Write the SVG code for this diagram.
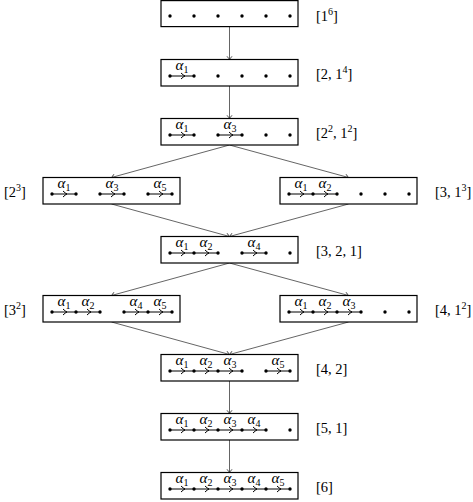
<svg xmlns="http://www.w3.org/2000/svg" width="473" height="502" viewBox="0 0 473 502">
<style>
.box{fill:#fff;stroke:#000;stroke-width:1.2}
.dot{fill:#000}
.e{fill:none;stroke:#000;stroke-width:1;marker-mid:url(#mid)}
.c{fill:none;stroke:#222;stroke-width:0.7;marker-end:url(#tip)}
.a{font-family:'Liberation Serif','DejaVu Serif',serif;font-style:italic;font-size:15px;text-anchor:middle;fill:#000}
.lb{font-family:'Liberation Serif','DejaVu Serif',serif;font-size:14.5px;fill:#000}
.s{font-size:10px;font-style:normal}
</style>
<defs>
<marker id="mid" markerUnits="userSpaceOnUse" viewBox="-5 -5 10 10" markerWidth="10" markerHeight="10" refX="0" refY="0" orient="auto" overflow="visible">
<path d="M-1,-3 Q1.5,-0.6 3,0 Q1.5,0.6 -1,3" fill="none" stroke="#000" stroke-width="1"/>
</marker>
<marker id="tip" markerUnits="userSpaceOnUse" viewBox="-5 -5 10 10" markerWidth="10" markerHeight="10" refX="0" refY="0" orient="auto" overflow="visible">
<path d="M-3.2,-2.5 Q-0.8,-0.5 0,0 Q-0.8,0.5 -3.2,2.5" fill="none" stroke="#222" stroke-width="0.8"/>
</marker>
</defs>

<g id="connectors">
<path class="c" d="M229.5 27 L229.5 59.5"/>
<path class="c" d="M229.5 86 L229.5 118.5"/>
<path class="c" d="M229.5 145 L111.5 177.5"/>
<path class="c" d="M229.5 145 L348.5 177.5"/>
<path class="c" d="M111.5 204 L229.5 236.5"/>
<path class="c" d="M348.5 204 L229.5 236.5"/>
<path class="c" d="M229.5 263 L111.5 295.5"/>
<path class="c" d="M229.5 263 L348.5 295.5"/>
<path class="c" d="M111.5 322 L229.5 354.5"/>
<path class="c" d="M348.5 322 L229.5 354.5"/>
<path class="c" d="M229.5 381 L229.5 413.5"/>
<path class="c" d="M229.5 440 L229.5 472.5"/>
</g>

<g id="n1">
<rect class="box" x="161" y="0.6" width="137" height="26"/>
<circle class="dot" cx="170" cy="16" r="1.7"/><circle class="dot" cx="194" cy="16" r="1.7"/><circle class="dot" cx="218" cy="16" r="1.7"/><circle class="dot" cx="242" cy="16" r="1.7"/><circle class="dot" cx="266" cy="16" r="1.7"/><circle class="dot" cx="290" cy="16" r="1.7"/>
<text class="lb" x="316" y="21">[1<tspan class="s" dy="-6">6</tspan><tspan dy="6">]</tspan></text>
</g>

<g id="n2">
<rect class="box" x="161" y="59.5" width="137" height="26.5"/>
<path class="e" d="M170 76 L182 76 L194 76"/>
<circle class="dot" cx="170" cy="76" r="1.7"/><circle class="dot" cx="194" cy="76" r="1.7"/><circle class="dot" cx="218" cy="76" r="1.7"/><circle class="dot" cx="242" cy="76" r="1.7"/><circle class="dot" cx="266" cy="76" r="1.7"/><circle class="dot" cx="290" cy="76" r="1.7"/>
<text class="a" x="182" y="69.5">α<tspan class="s" dy="3">1</tspan></text>
<text class="lb" x="316" y="79">[2, 1<tspan class="s" dy="-6">4</tspan><tspan dy="6">]</tspan></text>
</g>

<g id="n3">
<rect class="box" x="161" y="118.5" width="137" height="26.5"/>
<path class="e" d="M170 135 L182 135 L194 135"/>
<path class="e" d="M218 135 L230 135 L242 135"/>
<circle class="dot" cx="170" cy="135" r="1.7"/><circle class="dot" cx="194" cy="135" r="1.7"/><circle class="dot" cx="218" cy="135" r="1.7"/><circle class="dot" cx="242" cy="135" r="1.7"/><circle class="dot" cx="266" cy="135" r="1.7"/><circle class="dot" cx="290" cy="135" r="1.7"/>
<text class="a" x="182" y="128.5">α<tspan class="s" dy="3">1</tspan></text>
<text class="a" x="230" y="128.5">α<tspan class="s" dy="3">3</tspan></text>
<text class="lb" x="316" y="138">[2<tspan class="s" dy="-6">2</tspan><tspan dy="6">, 1</tspan><tspan class="s" dy="-6">2</tspan><tspan dy="6">]</tspan></text>
</g>

<g id="n4">
<rect class="box" x="43" y="177.5" width="137" height="26.5"/>
<path class="e" d="M52 194 L64 194 L76 194"/>
<path class="e" d="M100 194 L112 194 L124 194"/>
<path class="e" d="M148 194 L160 194 L172 194"/>
<circle class="dot" cx="52" cy="194" r="1.7"/><circle class="dot" cx="76" cy="194" r="1.7"/><circle class="dot" cx="100" cy="194" r="1.7"/><circle class="dot" cx="124" cy="194" r="1.7"/><circle class="dot" cx="148" cy="194" r="1.7"/><circle class="dot" cx="172" cy="194" r="1.7"/>
<text class="a" x="64" y="187.5">α<tspan class="s" dy="3">1</tspan></text>
<text class="a" x="112" y="187.5">α<tspan class="s" dy="3">3</tspan></text>
<text class="a" x="160" y="187.5">α<tspan class="s" dy="3">5</tspan></text>
<text class="lb" x="4" y="197">[2<tspan class="s" dy="-6">3</tspan><tspan dy="6">]</tspan></text>
</g>

<g id="n5">
<rect class="box" x="280" y="177.5" width="137" height="26.5"/>
<path class="e" d="M289 194 L301 194 L313 194"/>
<path class="e" d="M313 194 L325 194 L337 194"/>
<circle class="dot" cx="289" cy="194" r="1.7"/><circle class="dot" cx="313" cy="194" r="1.7"/><circle class="dot" cx="337" cy="194" r="1.7"/><circle class="dot" cx="361" cy="194" r="1.7"/><circle class="dot" cx="385" cy="194" r="1.7"/><circle class="dot" cx="409" cy="194" r="1.7"/>
<text class="a" x="301" y="187.5">α<tspan class="s" dy="3">1</tspan></text>
<text class="a" x="325" y="187.5">α<tspan class="s" dy="3">2</tspan></text>
<text class="lb" x="435" y="197">[3, 1<tspan class="s" dy="-6">3</tspan><tspan dy="6">]</tspan></text>
</g>

<g id="n6">
<rect class="box" x="161" y="236.5" width="137" height="26.5"/>
<path class="e" d="M170 253 L182 253 L194 253"/>
<path class="e" d="M194 253 L206 253 L218 253"/>
<path class="e" d="M242 253 L254 253 L266 253"/>
<circle class="dot" cx="170" cy="253" r="1.7"/><circle class="dot" cx="194" cy="253" r="1.7"/><circle class="dot" cx="218" cy="253" r="1.7"/><circle class="dot" cx="242" cy="253" r="1.7"/><circle class="dot" cx="266" cy="253" r="1.7"/><circle class="dot" cx="290" cy="253" r="1.7"/>
<text class="a" x="182" y="246.5">α<tspan class="s" dy="3">1</tspan></text>
<text class="a" x="206" y="246.5">α<tspan class="s" dy="3">2</tspan></text>
<text class="a" x="254" y="246.5">α<tspan class="s" dy="3">4</tspan></text>
<text class="lb" x="316" y="256">[3, 2, 1]</text>
</g>

<g id="n7">
<rect class="box" x="43" y="295.5" width="137" height="26.5"/>
<path class="e" d="M52 312 L64 312 L76 312"/>
<path class="e" d="M76 312 L88 312 L100 312"/>
<path class="e" d="M124 312 L136 312 L148 312"/>
<path class="e" d="M148 312 L160 312 L172 312"/>
<circle class="dot" cx="52" cy="312" r="1.7"/><circle class="dot" cx="76" cy="312" r="1.7"/><circle class="dot" cx="100" cy="312" r="1.7"/><circle class="dot" cx="124" cy="312" r="1.7"/><circle class="dot" cx="148" cy="312" r="1.7"/><circle class="dot" cx="172" cy="312" r="1.7"/>
<text class="a" x="64" y="305.5">α<tspan class="s" dy="3">1</tspan></text>
<text class="a" x="88" y="305.5">α<tspan class="s" dy="3">2</tspan></text>
<text class="a" x="136" y="305.5">α<tspan class="s" dy="3">4</tspan></text>
<text class="a" x="160" y="305.5">α<tspan class="s" dy="3">5</tspan></text>
<text class="lb" x="4" y="315">[3<tspan class="s" dy="-6">2</tspan><tspan dy="6">]</tspan></text>
</g>

<g id="n8">
<rect class="box" x="280" y="295.5" width="137" height="26.5"/>
<path class="e" d="M289 312 L301 312 L313 312"/>
<path class="e" d="M313 312 L325 312 L337 312"/>
<path class="e" d="M337 312 L349 312 L361 312"/>
<circle class="dot" cx="289" cy="312" r="1.7"/><circle class="dot" cx="313" cy="312" r="1.7"/><circle class="dot" cx="337" cy="312" r="1.7"/><circle class="dot" cx="361" cy="312" r="1.7"/><circle class="dot" cx="385" cy="312" r="1.7"/><circle class="dot" cx="409" cy="312" r="1.7"/>
<text class="a" x="301" y="305.5">α<tspan class="s" dy="3">1</tspan></text>
<text class="a" x="325" y="305.5">α<tspan class="s" dy="3">2</tspan></text>
<text class="a" x="349" y="305.5">α<tspan class="s" dy="3">3</tspan></text>
<text class="lb" x="435" y="315">[4, 1<tspan class="s" dy="-6">2</tspan><tspan dy="6">]</tspan></text>
</g>

<g id="n9">
<rect class="box" x="161" y="354.5" width="137" height="26.5"/>
<path class="e" d="M170 371 L182 371 L194 371"/>
<path class="e" d="M194 371 L206 371 L218 371"/>
<path class="e" d="M218 371 L230 371 L242 371"/>
<path class="e" d="M266 371 L278 371 L290 371"/>
<circle class="dot" cx="170" cy="371" r="1.7"/><circle class="dot" cx="194" cy="371" r="1.7"/><circle class="dot" cx="218" cy="371" r="1.7"/><circle class="dot" cx="242" cy="371" r="1.7"/><circle class="dot" cx="266" cy="371" r="1.7"/><circle class="dot" cx="290" cy="371" r="1.7"/>
<text class="a" x="182" y="364.5">α<tspan class="s" dy="3">1</tspan></text>
<text class="a" x="206" y="364.5">α<tspan class="s" dy="3">2</tspan></text>
<text class="a" x="230" y="364.5">α<tspan class="s" dy="3">3</tspan></text>
<text class="a" x="278" y="364.5">α<tspan class="s" dy="3">5</tspan></text>
<text class="lb" x="316" y="374">[4, 2]</text>
</g>

<g id="n10">
<rect class="box" x="161" y="413.5" width="137" height="26.5"/>
<path class="e" d="M170 430 L182 430 L194 430"/>
<path class="e" d="M194 430 L206 430 L218 430"/>
<path class="e" d="M218 430 L230 430 L242 430"/>
<path class="e" d="M242 430 L254 430 L266 430"/>
<circle class="dot" cx="170" cy="430" r="1.7"/><circle class="dot" cx="194" cy="430" r="1.7"/><circle class="dot" cx="218" cy="430" r="1.7"/><circle class="dot" cx="242" cy="430" r="1.7"/><circle class="dot" cx="266" cy="430" r="1.7"/><circle class="dot" cx="290" cy="430" r="1.7"/>
<text class="a" x="182" y="423.5">α<tspan class="s" dy="3">1</tspan></text>
<text class="a" x="206" y="423.5">α<tspan class="s" dy="3">2</tspan></text>
<text class="a" x="230" y="423.5">α<tspan class="s" dy="3">3</tspan></text>
<text class="a" x="254" y="423.5">α<tspan class="s" dy="3">4</tspan></text>
<text class="lb" x="316" y="433">[5, 1]</text>
</g>

<g id="n11">
<rect class="box" x="161" y="472.5" width="137" height="26.5"/>
<path class="e" d="M170 489 L182 489 L194 489"/>
<path class="e" d="M194 489 L206 489 L218 489"/>
<path class="e" d="M218 489 L230 489 L242 489"/>
<path class="e" d="M242 489 L254 489 L266 489"/>
<path class="e" d="M266 489 L278 489 L290 489"/>
<circle class="dot" cx="170" cy="489" r="1.7"/><circle class="dot" cx="194" cy="489" r="1.7"/><circle class="dot" cx="218" cy="489" r="1.7"/><circle class="dot" cx="242" cy="489" r="1.7"/><circle class="dot" cx="266" cy="489" r="1.7"/><circle class="dot" cx="290" cy="489" r="1.7"/>
<text class="a" x="182" y="482.5">α<tspan class="s" dy="3">1</tspan></text>
<text class="a" x="206" y="482.5">α<tspan class="s" dy="3">2</tspan></text>
<text class="a" x="230" y="482.5">α<tspan class="s" dy="3">3</tspan></text>
<text class="a" x="254" y="482.5">α<tspan class="s" dy="3">4</tspan></text>
<text class="a" x="278" y="482.5">α<tspan class="s" dy="3">5</tspan></text>
<text class="lb" x="316" y="492">[6]</text>
</g>
</svg>
